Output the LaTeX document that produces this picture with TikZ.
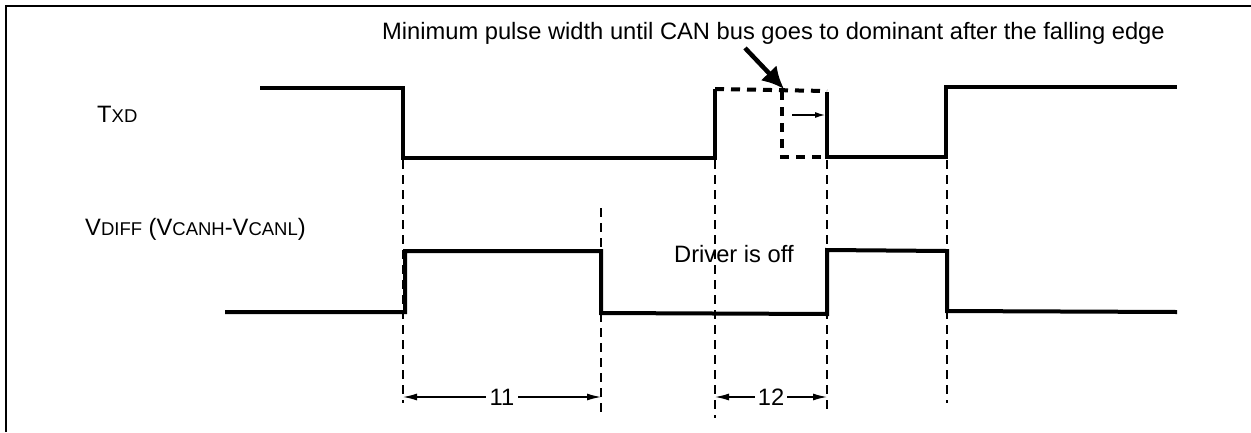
\documentclass[tikz,border=0pt]{standalone}
\usepackage{fontspec}
\setmainfont{Liberation Sans}
\usetikzlibrary{arrows.meta}
\newcommand\smc[1]{{\fontsize{18.5}{20}\selectfont #1}}
\begin{document}
\begin{tikzpicture}[x=1pt,y=-1pt,
  sig/.style={line width=4pt, line join=miter},
  sigdash/.style={line width=4pt, dash pattern=on 9pt off 7pt},
  guide/.style={line width=2pt, dash pattern=on 9pt off 6pt},
  dim/.style={line width=1.3pt, {Latex[length=14pt,width=7pt]}-{Latex[length=14pt,width=7pt]}},
  lbl/.style={inner sep=0pt, font=\fontsize{23.7}{28}\selectfont},
]
\useasboundingbox (0,0) rectangle (1251,432);
\draw[line width=2pt] (6,432) -- (6,6) -- (1251,6);

% labels
\node[lbl, anchor=base west] (title) at (382,39) {Minimum pulse width until CAN bus goes to dominant after the falling edge};
\node[lbl, anchor=base west] (txd) at (97,122) {T\smc{XD}};
\node[lbl, anchor=base west] (vdiff) at (85,235) {V\smc{DIFF} (V\smc{CANH}-V\smc{CANL})};
\node[lbl, anchor=base west] (off) at (674,262) {Driver is off};

% guides
\draw[guide] (403,160) -- (403,403);
\draw[guide] (601,208) -- (601,415);
\draw[guide] (715,160) -- (715,418);
\draw[guide] (827,160) -- (827,409);
\draw[guide] (947,160) -- (947,403);

% TXD
\draw[sig] (260,88) -- (403,88) -- (403,158) -- (715,158) -- (715,89);
\draw[sigdash] (715,89) -- (827,91);
\draw[sig] (827,92) -- (827,157) -- (946,157) -- (946,87) -- (1177,87);
\draw[sigdash] (782,91) -- (782,157) -- (827,157);
\coordinate (sa) at (792,115);
\coordinate (sb) at (825,115);
\draw[line width=1.2pt, -{Latex[length=10pt,width=6pt]}] (sa) -- (sb);
\coordinate (ba) at (745,48);
\coordinate (bb) at (784,89);
\draw[line width=4.5pt, -{Latex[length=22pt,width=22pt]}] (ba) -- (bb);

% VDIFF
\draw[sig] (225,312) -- (405,312) -- (405,251) -- (601,251) -- (601,313) -- (827,314) -- (827,250) -- (947,251) -- (947,311) -- (1177,312);

% dimensions
\coordinate (a1) at (403,397);
\coordinate (b1) at (601,397);
\coordinate (a2) at (715,397);
\coordinate (b2) at (827,397);
\draw[dim] (a1) -- (b1) node[midway, lbl, fill=white, inner xsep=4pt, inner ysep=1pt] (l11) {11};
\draw[dim] (a2) -- (b2) node[midway, lbl, fill=white, inner xsep=3pt, inner ysep=1pt] (l12) {12};
\end{tikzpicture}
\end{document}
